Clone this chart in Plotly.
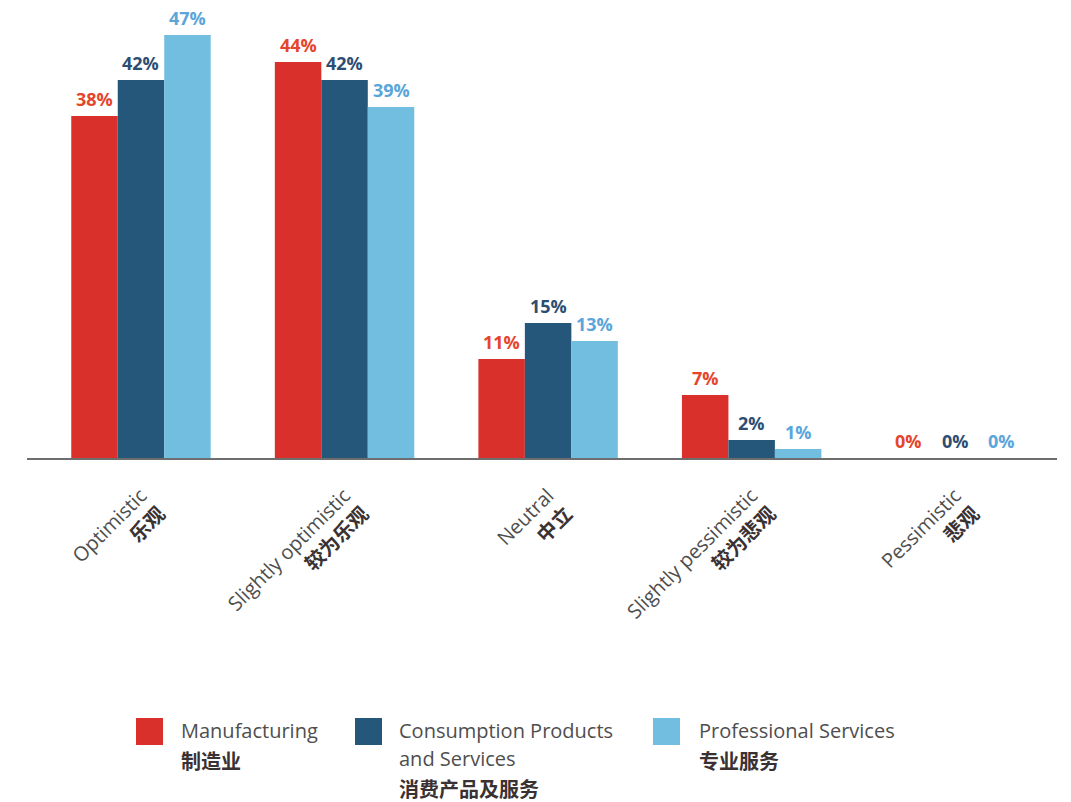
import plotly.graph_objects as go

# Survey outlook by sector (% of respondents)
categories_en = ["Optimistic", "Slightly optimistic", "Neutral", "Slightly pessimistic", "Pessimistic"]
categories_zh = ["乐观", "较为乐观", "中立", "较为悲观", "悲观"]

series_names_en = ["Manufacturing", "Consumption Products<br>and Services", "Professional Services"]
series_names_zh = ["制造业", "消费产品及服务", "专业服务"]

manufacturing = [38, 44, 11, 7, 0]
consumption = [42, 42, 15, 2, 0]
professional = [47, 39, 13, 1, 0]

series_values = [manufacturing, consumption, professional]
bar_colors = ["#D9302B", "#245779", "#72BEE0"]
label_colors = ["#E5452C", "#2D4D72", "#5AA5DA"]

FONT_EN = "Open Sans, Noto Sans CJK SC, sans-serif"
EN_GRAY = "#4e4e4e"
ZH_DARK = "#3a3232"

BARGAP = 0.315
n_series = len(series_values)
bar_w = (1 - BARGAP) / n_series

x_idx = list(range(len(categories_en)))

fig = go.Figure()
for name, vals, col in zip(series_names_en, series_values, bar_colors):
    fig.add_trace(go.Bar(
        x=x_idx, y=vals, name=name, marker=dict(color=col, line=dict(width=0)),
        showlegend=False, hoverinfo="skip",
    ))

# value labels above each bar
for k, (vals, lc) in enumerate(zip(series_values, label_colors)):
    for i, v in enumerate(vals):
        fig.add_annotation(
            x=i + (k - (n_series - 1) / 2) * bar_w, y=v, xref="x", yref="y",
            text=f"<b>{v}%</b>", showarrow=False, yanchor="bottom", yshift=3,
            font=dict(family=FONT_EN, size=18, color=lc),
        )

tick_text = [
    f"<span style='color:{EN_GRAY}'>{en}</span><br><b><span style='color:{ZH_DARK}'>{zh}</span></b>"
    for en, zh in zip(categories_en, categories_zh)
]

# plot area geometry in pixels
W, H = 1071, 802
L, R, T, B = 27, 14, 20, 344
plot_h = H - T - B

fig.update_layout(
    width=W, height=H,
    margin=dict(l=L, r=R, t=T, b=B),
    paper_bgcolor="white", plot_bgcolor="white",
    barmode="group", bargap=BARGAP, bargroupgap=0,
    xaxis=dict(
        range=[-0.56, 4.5], tickmode="array", tickvals=x_idx, ticktext=tick_text,
        tickangle=-45, showline=True, linecolor="#6e6e6e", linewidth=2,
        showgrid=False, zeroline=False, ticks="", ticklabelstandoff=16,
        tickfont=dict(family=FONT_EN, size=20, color=EN_GRAY),
    ),
    yaxis=dict(range=[0, plot_h / 9.0], visible=False, showgrid=False, zeroline=False),
)


def px_x(px):
    return (px - L) / (W - L - R)


def px_y(py):
    return (H - B - py) / plot_h


# legend: swatches and two-language labels
legend_items = [
    (136, 179, ["Manufacturing"], series_names_zh[0]),
    (355, 397, ["Consumption Products", "and Services"], series_names_zh[1]),
    (653, 697, ["Professional Services"], series_names_zh[2]),
]
for (sx, tx, en_lines, zh), col in zip(legend_items, bar_colors):
    fig.add_shape(type="rect", xref="paper", yref="paper",
                  x0=px_x(sx), x1=px_x(sx + 27), y0=px_y(745), y1=px_y(718),
                  fillcolor=col, line=dict(width=0))
    y_line = 730
    for line in en_lines:
        fig.add_annotation(xref="paper", yref="paper", x=px_x(tx), y=px_y(y_line),
                           xanchor="left", yanchor="middle", showarrow=False,
                           text=line, font=dict(family=FONT_EN, size=20, color=EN_GRAY))
        y_line += 28
    fig.add_annotation(xref="paper", yref="paper", x=px_x(tx), y=px_y(y_line + 2),
                       xanchor="left", yanchor="middle", showarrow=False,
                       text=f"<b>{zh}</b>",
                       font=dict(family="Noto Sans CJK SC, sans-serif", size=20, color=ZH_DARK))

fig.write_html("out.html")
